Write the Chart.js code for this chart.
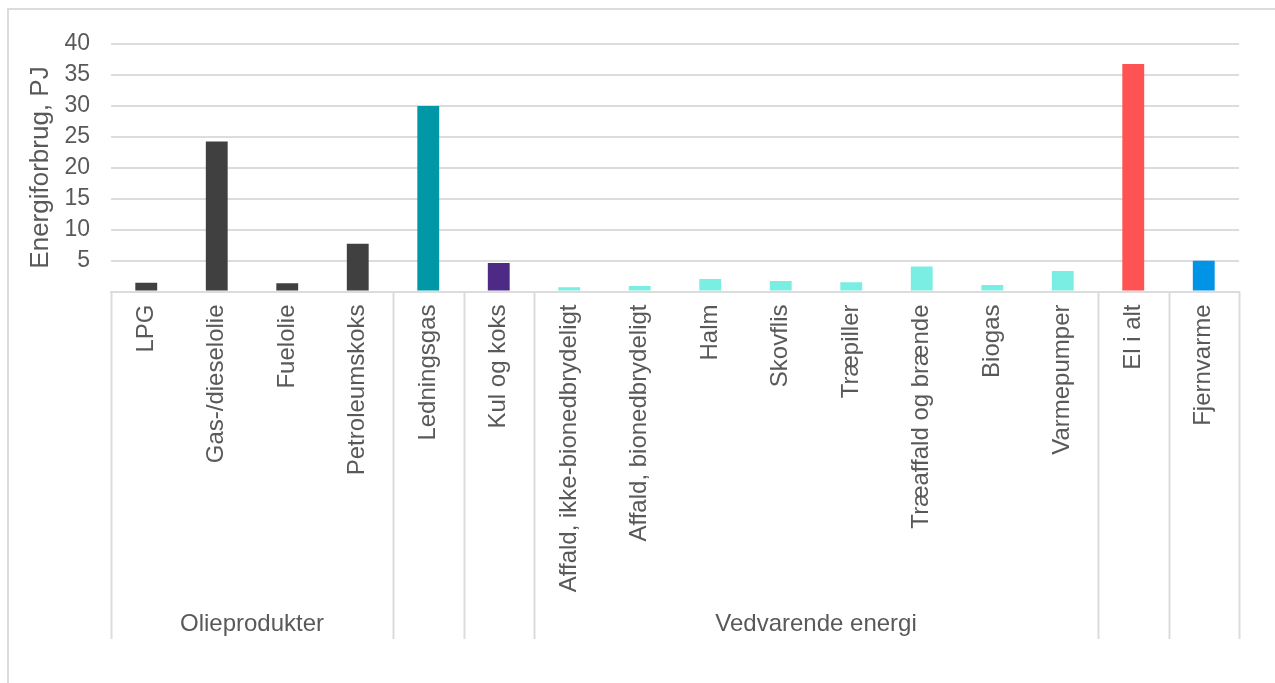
<!DOCTYPE html>
<html>
<head>
<meta charset="utf-8">
<script src="https://cdn.jsdelivr.net/npm/chart.js@4/dist/chart.umd.min.js"></script>
<style>
  html, body { margin: 0; padding: 0; background: #ffffff; }
  #wrap { position: relative; width: 1275px; height: 683px; }
</style>
</head>
<body>
<div id="wrap"><canvas id="c" width="1275" height="683"></canvas></div>
<script>
const categories = ["LPG", "Gas-/dieselolie", "Fuelolie", "Petroleumskoks", "Ledningsgas", "Kul og koks",
  "Affald, ikke-bionedbrydeligt", "Affald, bionedbrydeligt", "Halm", "Skovflis", "Træpiller",
  "Træaffald og brænde", "Biogas", "Varmepumper", "El i alt", "Fjernvarme"];
const values = [1.4, 24.2, 1.35, 7.7, 29.9, 4.6, 0.7, 0.9, 2.0, 1.7, 1.5, 4.05, 1.05, 3.3, 36.7, 4.95];
const groupNames = ["Olieprodukter", "", "", "Vedvarende energi", "", ""];
const groupSizes = [4, 1, 1, 8, 1, 1];
const yTicks = [5, 10, 15, 20, 25, 30, 35, 40];
const barColors = ["#404040", "#404040", "#404040", "#404040", "#0097A7", "#4E2A87",
  "#7AEEE2", "#7AEEE2", "#7AEEE2", "#7AEEE2", "#7AEEE2", "#7AEEE2", "#7AEEE2", "#7AEEE2", "#FF5252", "#0093E6"];

const FONT = "'Liberation Sans', Arial, sans-serif";
const TXT = "#595959";
const GRID = "#dcdcdc";

const framePlugin = {
  id: 'frame',
  beforeDraw(chart) {
    const ctx = chart.ctx;
    ctx.save();
    ctx.fillStyle = '#ffffff';
    ctx.fillRect(0, 0, chart.width, chart.height);
    ctx.strokeStyle = GRID;
    ctx.lineWidth = 2;
    ctx.strokeRect(8, 9, chart.width + 20, chart.height + 20);
    ctx.restore();
  }
};

const groupPlugin = {
  id: 'groups',
  afterDraw(chart) {
    const ctx = chart.ctx;
    const xs = chart.scales.x;
    const area = chart.chartArea;
    const edge = (i) => {
      if (i <= 0) return area.left;
      if (i >= categories.length) return area.right;
      return (xs.getPixelForValue(i - 1) + xs.getPixelForValue(i)) / 2;
    };
    ctx.save();
    ctx.strokeStyle = GRID;
    ctx.lineWidth = 2;
    let idx = 0;
    const bounds = [0];
    groupSizes.forEach(s => { idx += s; bounds.push(idx); });
    bounds.forEach(b => {
      const x = Math.round(edge(b)) + 0.5;
      ctx.beginPath();
      ctx.moveTo(x, area.bottom);
      ctx.lineTo(x, 639);
      ctx.stroke();
    });
    ctx.fillStyle = TXT;
    ctx.font = "24px " + FONT;
    ctx.textAlign = 'center';
    ctx.textBaseline = 'middle';
    groupNames.forEach((g, k) => {
      if (!g) return;
      const x0 = edge(bounds[k]), x1 = edge(bounds[k + 1]);
      ctx.fillText(g, (x0 + x1) / 2, 624);
    });
    ctx.restore();
  }
};

new Chart(document.getElementById('c'), {
  type: 'bar',
  data: {
    labels: categories,
    datasets: [{
      data: values,
      backgroundColor: barColors,
      borderWidth: 0,
      barPercentage: 0.31,
      categoryPercentage: 1.0
    }]
  },
  options: {
    responsive: false,
    animation: false,
    devicePixelRatio: 1,
    layout: { padding: { top: 43.5, right: 36, left: 0, bottom: 0 } },
    plugins: { legend: { display: false }, tooltip: { enabled: false } },
    scales: {
      x: {
        grid: { display: false, drawTicks: false },
        border: { display: true, color: GRID, width: 2 },
        ticks: {
          autoSkip: false, minRotation: 90, maxRotation: 90, padding: 13,
          color: TXT, font: { family: FONT, size: 24 }
        },
        afterFit(s) { s.height = 391.5; }
      },
      y: {
        min: 0, max: 40,
        afterBuildTicks(s) { s.ticks = [0].concat(yTicks).map(v => ({ value: v })); },
        grid: { color: GRID, lineWidth: 2, drawTicks: false },
        border: { display: false },
        ticks: {
          padding: 21, color: TXT, font: { family: FONT, size: 23 },
          callback: (v) => (v === 0 ? '' : String(v))
        },
        title: {
          display: true, text: 'Energiforbrug, PJ', color: TXT,
          font: { family: FONT, size: 26 }, padding: { top: 25, bottom: 0 }
        },
        afterFit(s) { s.width = 111; }
      }
    }
  },
  plugins: [framePlugin, groupPlugin]
});
</script>
</body>
</html>
